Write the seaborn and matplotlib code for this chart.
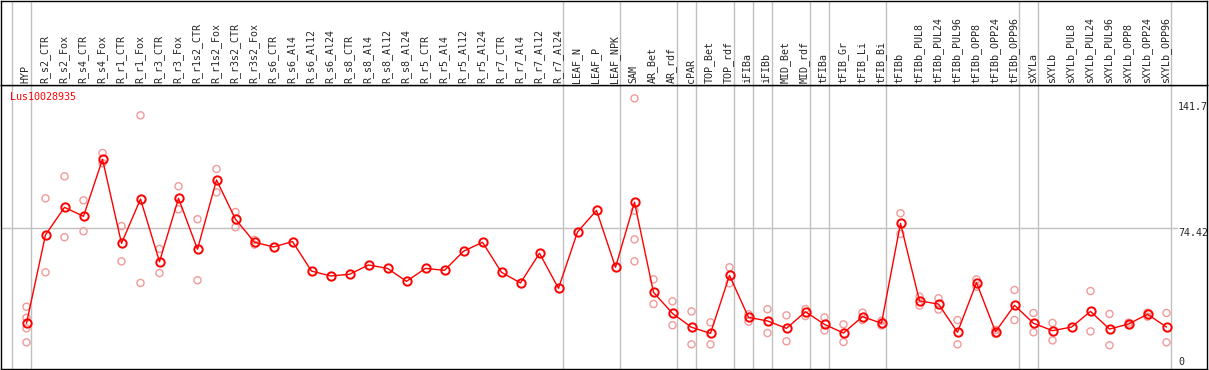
import numpy as np
import pandas as pd
import matplotlib
matplotlib.use("Agg")
import matplotlib.pyplot as plt
import seaborn as sns

samples = ["HYP", "R_s2_CTR", "R_s2_Fox", "R_s4_CTR", "R_s4_Fox", "R_r1_CTR", "R_r1_Fox",
           "R_r3_CTR", "R_r3_Fox", "R_r1s2_CTR", "R_r1s2_Fox", "R_r3s2_CTR", "R_r3s2_Fox",
           "R_s6_CTR", "R_s6_Al4", "R_s6_Al12", "R_s6_Al24", "R_s8_CTR", "R_s8_Al4", "R_s8_Al12",
           "R_s8_Al24", "R_r5_CTR", "R_r5_Al4", "R_r5_Al12", "R_r5_Al24", "R_r7_CTR", "R_r7_Al4",
           "R_r7_Al12", "R_r7_Al24", "LEAF_N", "LEAF_P", "LEAF_NPK", "SAM", "AR_Bet", "AR_rdf",
           "cPAR", "TOP_Bet", "TOP_rdf", "iFIBa", "iFIBb", "MID_Bet", "MID_rdf", "tFIBa",
           "tFIB_Gr", "tFIB_Li", "tFIB_Bi", "tFIBb", "tFIBb_PUL8", "tFIBb_PUL24", "tFIBb_PUL96",
           "tFIBb_OPP8", "tFIBb_OPP24", "tFIBb_OPP96", "sXYLa", "sXYLb", "sXYLb_PUL8",
           "sXYLb_PUL24", "sXYLb_PUL96", "sXYLb_OPP8", "sXYLb_OPP24", "sXYLb_OPP96"]

means = [21.5, 70.6, 85.9, 80.9, 112.6, 65.9, 90.5, 55.7, 90.9, 62.6, 101.1, 79.3, 66.5,
         63.9, 66.9, 50.5, 47.8, 48.7, 53.9, 52.0, 44.8, 52.0, 50.9, 61.5, 66.5, 49.8, 43.9,
         60.4, 40.9, 72.2, 84.2, 52.6, 88.7, 38.7, 27.0, 19.3, 15.9, 48.1, 24.8, 22.8, 18.7,
         27.9, 20.9, 16.1, 25.2, 21.5, 77.0, 33.9, 32.2, 16.5, 44.1, 16.8, 31.5, 21.5, 17.4,
         19.4, 28.1, 18.3, 21.1, 26.5, 19.4]

replicates = [[30.7, 24.6, 18.7, 10.9], [90.9, 49.8], [103.1, 69.3], [89.8, 72.6], [116.1, 110.4],
              [75.5, 55.9], [137.0, 43.9], [62.8, 49.4], [97.6, 84.8], [79.3, 45.4], [107.2, 94.2],
              [83.3, 74.8], [67.8, 65.2], [], [], [], [], [], [], [], [], [], [], [], [], [], [],
              [], [], [], [], [], [146.4, 84.0, 68.1, 55.9], [45.9, 32.2], [33.7, 20.4],
              [28.1, 9.8], [22.0, 9.8], [52.6, 43.7], [26.5, 22.4], [29.3, 16.1], [25.9, 11.5],
              [29.4, 25.5], [24.8, 17.5], [20.9, 11.1], [27.4, 23.3], [22.9, 20.3], [82.6, 71.1],
              [36.3, 31.3], [35.4, 29.1], [23.3, 9.8], [45.9, 41.8], [17.8, 15.6], [40.0, 23.3],
              [27.2, 16.5], [21.7, 12.0], [], [39.4, 17.0], [26.7, 9.3], [21.8, 20.4],
              [27.4, 25.2], [27.2, 10.9]]

# group separators sit just right of these sample positions
group_ends = [-1, 0, 28, 31, 34, 35, 37, 38, 39, 41, 42, 45, 52, 53, 60]
y_ticks = [0, 74.42, 141.7]
gene = "Lus10028935"

sns.set_style("white")
plt.rcParams['font.family'] = ['DejaVu Sans Mono']

idx = np.arange(len(samples))
df_mean = pd.DataFrame({"pos": idx, "value": means})
df_rep = pd.DataFrame([(i, v) for i, r in enumerate(replicates) for v in r], columns=["pos", "value"])

W, H = 1209, 370
fig = plt.figure(figsize=(W / 100, H / 100), dpi=100)
ax = fig.add_axes([1 / W, 1 / H, 1206 / W, 284 / H])
axh = fig.add_axes([1 / W, 285 / H, 1206 / W, 84.5 / H])

xlim = ((1 - 26.5) / 19, (1207 - 26.5) / 19)
px = 134 / 74.42
ylim = ((362 - 369) / px, (362 - 85) / px)

for a in (ax, axh):
    a.set_xlim(*xlim)
    for g in group_ends:
        a.axvline(g + 0.22, color="#c0c0c0", lw=1, zorder=0)
    for s in a.spines.values():
        s.set_color("black")
        s.set_linewidth(1)
    a.set_xticks([])
    a.set_yticks([])
    a.set_xlabel("")
    a.set_ylabel("")

ax.set_ylim(*ylim)
ax.axhline(74.42, xmin=0, xmax=(1177 - 1) / 1206, color="#c0c0c0", lw=1, zorder=0)

sns.scatterplot(data=df_rep, x="pos", y="value", ax=ax, marker="o", s=26,
                facecolor="none", edgecolor="#f09a9a", linewidth=1.0, zorder=2, legend=False)
sns.lineplot(data=df_mean, x="pos", y="value", ax=ax, color="red", lw=1,
             marker="o", markersize=6, markerfacecolor="none", markeredgecolor="red",
             markeredgewidth=1.4, zorder=3, legend=False)
ax.set_xlabel("")
ax.set_ylabel("")

ax.text(9 / 1206, (369 - 97) / 284, gene, transform=ax.transAxes, color="red",
        fontsize=7.2, va="center", ha="left")

yt = ax.get_yaxis_transform()
ax.text(0.976, y_ticks[2], "141.7", transform=yt, fontsize=7.2, va="center", ha="left")
ax.text(0.976, y_ticks[1], "74.42", transform=yt, fontsize=7.2, va="top", ha="left")
ax.text(0.976, y_ticks[0], "0", transform=yt, fontsize=7.2, va="center", ha="left")

axh.set_ylim(0, 84.5)
for i, name in enumerate(samples):
    axh.text(i - 0.05, 2.0, name, rotation=90, fontsize=7.2, ha="center", va="bottom")

fig.savefig("out.png", dpi=100)
